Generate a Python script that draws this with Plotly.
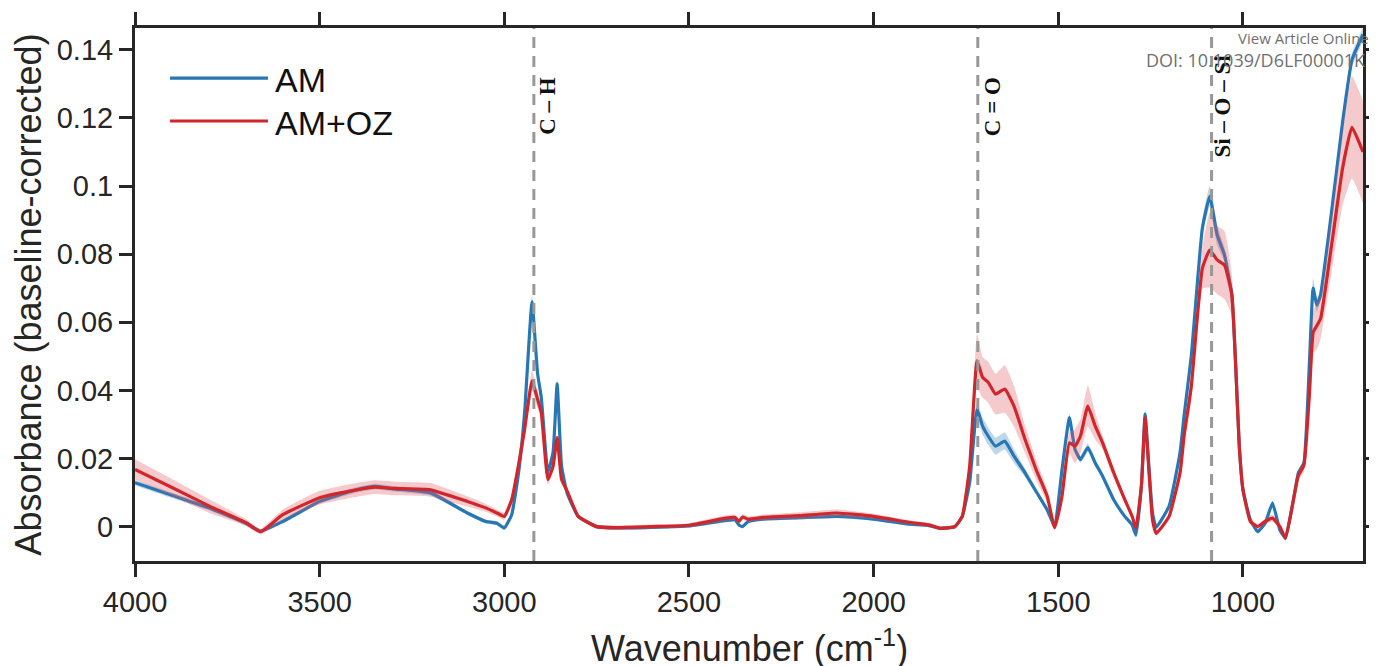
import numpy as np
import plotly.graph_objects as go

# ---------------- data ----------------
wavenumber = [4000, 3900, 3800, 3700, 3660, 3600, 3500, 3400, 3350, 3300, 3200, 3100, 3050, 3020,
              3000, 2980, 2960, 2945, 2925, 2910, 2900, 2882, 2868, 2857, 2845, 2830, 2800, 2750,
              2700, 2600, 2500, 2400, 2375, 2365, 2355, 2340, 2300, 2200, 2100, 2000, 1900, 1850,
              1820, 1780, 1760, 1740, 1720, 1705, 1690, 1670, 1645, 1620, 1590, 1560, 1530, 1510,
              1490, 1470, 1455, 1440, 1420, 1400, 1380, 1350, 1320, 1300, 1290, 1275, 1265, 1255,
              1245, 1235, 1200, 1170, 1159, 1140, 1110, 1090, 1070, 1050, 1030, 1020, 1010, 1000,
              980, 960, 940, 920, 900, 885, 865, 850, 835, 820, 810, 800, 790, 760, 730, 705, 675]

am_mean = [0.0129, 0.0092, 0.0055, 0.0010, -0.0013, 0.0015, 0.0074, 0.0108, 0.0118, 0.0111, 0.0099, 0.0040, 0.0015, 0.0010,
           -0.0004, 0.0035, 0.0170, 0.0336, 0.0660, 0.0450, 0.0380, 0.0160, 0.0218, 0.0419, 0.0177, 0.0099, 0.0030, 0.0000,
           -0.0004, -0.0002, 0.0002, 0.0018, 0.0020, 0.0005, 0.0000, 0.0015, 0.0022, 0.0026, 0.0030, 0.0022, 0.0007, 0.0003,
           -0.0005, 0.0000, 0.0030, 0.0130, 0.0345, 0.0295, 0.0266, 0.0236, 0.0251, 0.0207, 0.0158, 0.0103, 0.0049, 0.0000,
           0.0167, 0.0320, 0.0227, 0.0197, 0.0232, 0.0187, 0.0148, 0.0079, 0.0030, 0.0005, -0.0025, 0.0120, 0.0330, 0.0180,
           0.0040, -0.0002, 0.0060, 0.0220, 0.0330, 0.0500, 0.0876, 0.0970, 0.0857, 0.0798, 0.0680, 0.0480, 0.0236, 0.0108,
           0.0020, -0.0015, 0.0010, 0.0069, -0.0010, -0.0034, 0.0069, 0.0158, 0.0187, 0.0483, 0.0700, 0.0650, 0.0680, 0.0926, 0.1190, 0.1370, 0.1445]

am_sd = [0.0008, 0.0008, 0.0007, 0.0006, 0.0006, 0.0006, 0.0007, 0.0008, 0.0008, 0.0008, 0.0008, 0.0006, 0.0006, 0.0006,
         0.0006, 0.0008, 0.0012, 0.0015, 0.0020, 0.0015, 0.0012, 0.0008, 0.0008, 0.0015, 0.0008, 0.0006, 0.0005, 0.0005,
         0.0005, 0.0005, 0.0005, 0.0005, 0.0005, 0.0005, 0.0005, 0.0005, 0.0005, 0.0005, 0.0005, 0.0005, 0.0005, 0.0005,
         0.0005, 0.0005, 0.0006, 0.0010, 0.0020, 0.0025, 0.0025, 0.0025, 0.0025, 0.0020, 0.0012, 0.0008, 0.0006, 0.0005,
         0.0008, 0.0012, 0.0010, 0.0010, 0.0012, 0.0010, 0.0008, 0.0006, 0.0005, 0.0005, 0.0005, 0.0008, 0.0015, 0.0008,
         0.0005, 0.0005, 0.0005, 0.0008, 0.0012, 0.0015, 0.0025, 0.0030, 0.0030, 0.0020, 0.0015, 0.0010, 0.0008, 0.0006,
         0.0005, 0.0005, 0.0005, 0.0008, 0.0005, 0.0005, 0.0006, 0.0008, 0.0010, 0.0015, 0.0030, 0.0020, 0.0015, 0.0015, 0.0020, 0.0020, 0.0020]

amoz_mean = [0.0168, 0.0115, 0.0061, 0.0012, -0.0015, 0.0035, 0.0085, 0.0108, 0.0116, 0.0112, 0.0108, 0.0074, 0.0055, 0.0040,
             0.0030, 0.0079, 0.0190, 0.0286, 0.0428, 0.0374, 0.0335, 0.0138, 0.0177, 0.0261, 0.0138, 0.0105, 0.0030, 0.0000,
             -0.0003, 0.0000, 0.0004, 0.0025, 0.0027, 0.0015, 0.0028, 0.0022, 0.0027, 0.0032, 0.0040, 0.0030, 0.0012, 0.0005,
             -0.0005, 0.0000, 0.0030, 0.0177, 0.0487, 0.0438, 0.0424, 0.0389, 0.0404, 0.0354, 0.0256, 0.0167, 0.0089, -0.0003,
             0.0089, 0.0246, 0.0236, 0.0266, 0.0354, 0.0295, 0.0246, 0.0158, 0.0079, 0.0030, -0.0005, 0.0120, 0.0320, 0.0170,
             0.0020, -0.0020, 0.0030, 0.0160, 0.0270, 0.0410, 0.0758, 0.0812, 0.0783, 0.0768, 0.0680, 0.0480, 0.0236, 0.0108,
             0.0015, 0.0000, 0.0015, 0.0025, 0.0000, -0.0034, 0.0069, 0.0150, 0.0180, 0.0390, 0.0570, 0.0590, 0.0610, 0.0827, 0.1054, 0.1172, 0.1100]

amoz_sd = [0.0030, 0.0025, 0.0020, 0.0010, 0.0008, 0.0015, 0.0020, 0.0020, 0.0020, 0.0020, 0.0020, 0.0015, 0.0012, 0.0010,
           0.0010, 0.0015, 0.0030, 0.0030, 0.0030, 0.0025, 0.0020, 0.0015, 0.0012, 0.0010, 0.0008, 0.0008, 0.0006, 0.0006,
           0.0006, 0.0006, 0.0006, 0.0008, 0.0008, 0.0008, 0.0008, 0.0008, 0.0008, 0.0010, 0.0010, 0.0008, 0.0006, 0.0006,
           0.0006, 0.0006, 0.0008, 0.0030, 0.0080, 0.0060, 0.0060, 0.0060, 0.0070, 0.0060, 0.0040, 0.0030, 0.0020, 0.0008,
           0.0020, 0.0030, 0.0050, 0.0050, 0.0060, 0.0040, 0.0020, 0.0015, 0.0010, 0.0008, 0.0008, 0.0010, 0.0012, 0.0010,
           0.0008, 0.0008, 0.0008, 0.0015, 0.0030, 0.0040, 0.0060, 0.0110, 0.0100, 0.0100, 0.0060, 0.0040, 0.0020, 0.0010,
           0.0008, 0.0008, 0.0008, 0.0010, 0.0008, 0.0008, 0.0010, 0.0015, 0.0020, 0.0040, 0.0060, 0.0070, 0.0060, 0.0080, 0.0110, 0.0150, 0.0150]

band_positions = [2920, 1718, 1085]
band_labels = ["C – H", "C = O", "Si – O – Si"]
band_label_x = [2883, 1680, 1056]

x_ticks = [4000, 3500, 3000, 2500, 2000, 1500, 1000]
y_ticks = [0, 0.02, 0.04, 0.06, 0.08, 0.1, 0.12, 0.14]
y_ticktext = ["0", "0.02", "0.04", "0.06", "0.08", "0.1", "0.12", "0.14"]

series_names = ["AM", "AM+OZ"]
line_colors = ["#2777b4", "#d1262c"]
band_colors = ["rgba(39,119,180,0.30)", "rgba(225,90,95,0.32)"]

# ---------------- figure ----------------
fig = go.Figure()
x = np.array(wavenumber, dtype=float)
means = [np.array(am_mean), np.array(amoz_mean)]
sds = [np.array(am_sd), np.array(amoz_sd)]

for i in range(2):
    m, s = means[i], sds[i]
    fig.add_trace(go.Scatter(x=x, y=m - s, mode="lines", line=dict(width=0, shape="spline", smoothing=0.4),
                             hoverinfo="skip", showlegend=False))
    fig.add_trace(go.Scatter(x=x, y=m + s, mode="lines", line=dict(width=0, shape="spline", smoothing=0.4),
                             fill="tonexty", fillcolor=band_colors[i], hoverinfo="skip", showlegend=False))
    fig.add_trace(go.Scatter(x=x, y=m, mode="lines", name=series_names[i],
                             line=dict(color=line_colors[i], width=3.2, shape="spline", smoothing=0.4),
                             showlegend=False))

# dashed reference lines
for bp in band_positions:
    fig.add_shape(type="line", xref="x", yref="paper", x0=bp, x1=bp, y0=0, y1=1,
                  line=dict(color="#989898", width=3, dash="11px,8px"), layer="above")

for lbl, lx in zip(band_labels, band_label_x):
    fig.add_annotation(x=lx, y=0.1234, xref="x", yref="y", text="<b>" + lbl + "</b>", showarrow=False,
                       textangle=-90, font=dict(family="Liberation Serif, Times New Roman, serif", size=23, color="#111111"))

# manual legend
leg_y = [0.906, 0.8255]
for i in range(2):
    fig.add_shape(type="line", xref="paper", yref="paper", x0=0.0285, x1=0.1083, y0=leg_y[i], y1=leg_y[i],
                  line=dict(color=line_colors[i], width=3.2))
    fig.add_annotation(x=0.1125, y=leg_y[i] - 0.004, xref="paper", yref="paper", text=series_names[i],
                       showarrow=False, xanchor="left", yanchor="middle",
                       font=dict(family="Liberation Sans, Arial, sans-serif", size=34, color="#111111"))

# publisher watermark
fig.add_annotation(x=0.8965, y=0.982, xref="paper", yref="paper", text="View Article Online", showarrow=False,
                   xanchor="left", yanchor="middle", font=dict(family="Open Sans, sans-serif", size=15, color="#707070"))
fig.add_annotation(x=0.822, y=0.94, xref="paper", yref="paper", text="DOI: 10.1039/D6LF00001K", showarrow=False,
                   xanchor="left", yanchor="middle", font=dict(family="Open Sans, sans-serif", size=18, color="#707070"))

# x-axis title (placed as annotation so it can sit at the very bottom edge as in the source)
fig.add_annotation(x=0.5, y=-0.159, xref="paper", yref="paper", text="Wavenumber (cm<sup>-1</sup>)",
                   showarrow=False, xanchor="center", yanchor="middle",
                   font=dict(family="Liberation Sans, Arial, sans-serif", size=36, color="#262626"))

axis_common = dict(showline=True, linecolor="#262626", linewidth=3, mirror="ticks", ticks="outside",
                   ticklen=13, tickwidth=2.5, tickcolor="#262626", showgrid=False, zeroline=False, automargin=False,
                   tickfont=dict(family="Liberation Sans, Arial, sans-serif", size=29, color="#262626"))

# the page body adds an 8 px offset; size and margins compensate for it
fig.update_layout(
    width=1369, height=658,
    margin=dict(l=127, r=14, t=20, b=105),
    paper_bgcolor="white", plot_bgcolor="white",
    showlegend=False,
    xaxis=dict(range=[4000, 675], tickvals=x_ticks, **axis_common),
    yaxis=dict(range=[-0.0101, 0.1464], tickvals=y_ticks, ticktext=y_ticktext, **axis_common,
               title=dict(text="Absorbance (baseline-corrected)", standoff=20,
                          font=dict(family="Liberation Sans, Arial, sans-serif", size=36, color="#262626"))),
)

fig.write_html("out.html")
